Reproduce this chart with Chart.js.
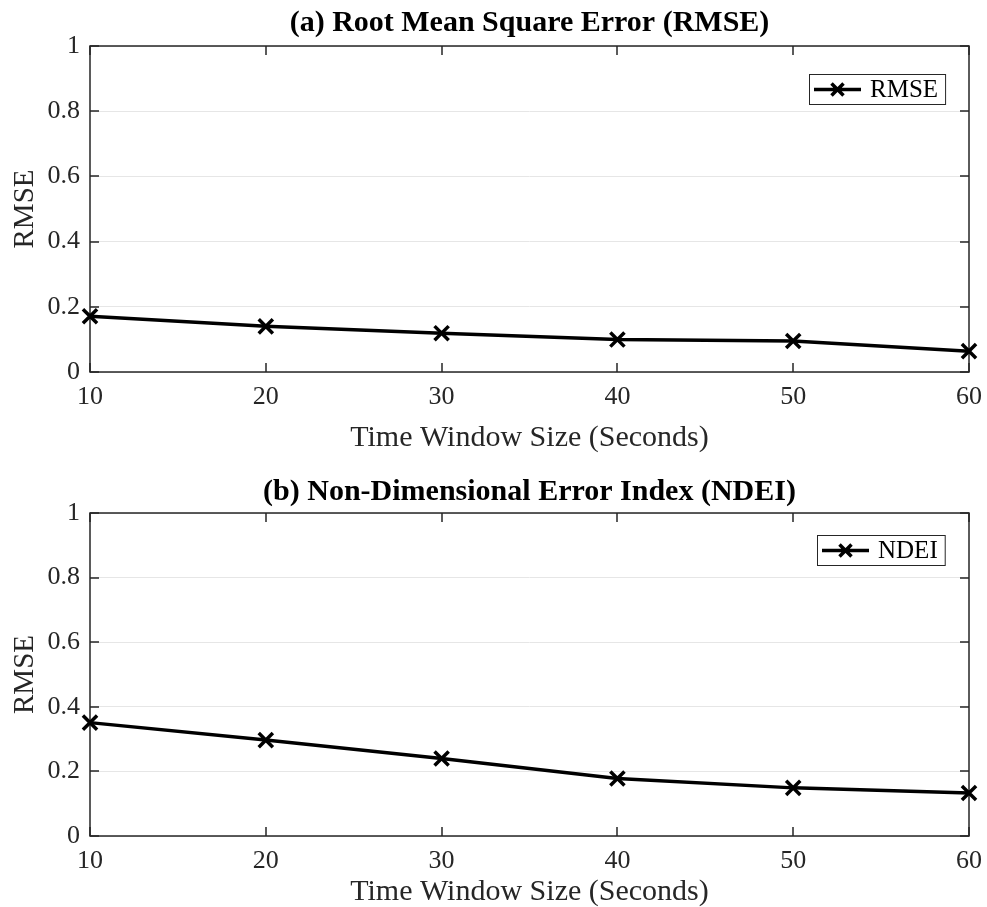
<!DOCTYPE html>
<html>
<head>
<meta charset="utf-8">
<script src="https://cdn.jsdelivr.net/npm/chart.js@4"></script>
<style>
html,body{margin:0;padding:0;background:#fff;}
#wrap{position:relative;width:987px;height:907px;overflow:hidden;}
#c1{position:absolute;left:0;top:0;}
#c2{position:absolute;left:0;top:458px;}
</style>
</head>
<body>
<div id="wrap">
<canvas id="c1" width="987" height="458"></canvas>
<canvas id="c2" width="987" height="449"></canvas>
</div>
<script>
const windowSizes = [10, 20, 30, 40, 50, 60];
const rmseValues = [0.171, 0.140, 0.119, 0.0995, 0.095, 0.064];
const ndeiValues = [0.351, 0.297, 0.240, 0.178, 0.149, 0.133];
const yTickValues = [0, 0.2, 0.4, 0.6, 0.8, 1];
const yTickLabels = ['0', '0.2', '0.4', '0.6', '0.8', '1'];
const xTickLabels = ['10', '20', '30', '40', '50', '60'];
const titles = ['(a) Root Mean Square Error (RMSE)', '(b) Non-Dimensional Error Index (NDEI)'];
const seriesNames = ['RMSE', 'NDEI'];
const xTitle = 'Time Window Size (Seconds)';
const yTitle = 'RMSE';

const FONT = "'Liberation Serif', 'Times New Roman', serif";
const AXIS = '#262626';

const boxTicks = {
  id: 'boxTicks',
  beforeDatasetsDraw(chart) {
    const ctx = chart.ctx, a = chart.chartArea;
    const xs = chart.scales.x, ys = chart.scales.y;
    const L = 9;
    ctx.save();
    ctx.strokeStyle = AXIS;
    ctx.lineWidth = 1.5;
    ctx.beginPath();
    xs.ticks.forEach(t => {
      const px = Math.round(xs.getPixelForValue(t.value));
      ctx.moveTo(px, a.bottom); ctx.lineTo(px, a.bottom - L);
      ctx.moveTo(px, a.top); ctx.lineTo(px, a.top + L);
    });
    ys.ticks.forEach(t => {
      const py = Math.round(ys.getPixelForValue(t.value));
      ctx.moveTo(a.left, py); ctx.lineTo(a.left + L, py);
      ctx.moveTo(a.right, py); ctx.lineTo(a.right - L, py);
    });
    ctx.stroke();
    ctx.lineWidth = 1.5;
    ctx.strokeRect(a.left, a.top, a.right - a.left, a.bottom - a.top);
    ctx.restore();
  }
};

const boxLegend = {
  id: 'boxLegend',
  afterDatasetsDraw(chart, args, opts) {
    const ctx = chart.ctx, a = chart.chartArea;
    const label = chart.data.datasets[0].label;
    ctx.save();
    ctx.font = '25px ' + FONT;
    const tw = ctx.measureText(label).width;
    const lineLen = 47;
    const w = 5 + lineLen + 9 + tw + 7;
    const h = 30;
    const x1 = Math.round(a.right - 24 - w);
    const y1 = Math.round(a.top + opts.offsetY);
    ctx.fillStyle = '#fff';
    ctx.fillRect(x1, y1, w, h);
    ctx.strokeStyle = '#262626';
    ctx.lineWidth = 1;
    ctx.strokeRect(x1 + 0.5, y1 + 0.5, w, h);
    const cy = y1 + h / 2 + 0.5;
    const lx = x1 + 5;
    ctx.strokeStyle = '#000';
    ctx.lineWidth = 3.5;
    ctx.beginPath();
    ctx.moveTo(lx, cy); ctx.lineTo(lx + lineLen, cy);
    const cx = lx + lineLen / 2, r = 6;
    ctx.moveTo(cx - r, cy - r); ctx.lineTo(cx + r, cy + r);
    ctx.moveTo(cx - r, cy + r); ctx.lineTo(cx + r, cy - r);
    ctx.stroke();
    ctx.fillStyle = '#000';
    ctx.textBaseline = 'middle';
    ctx.fillText(label, lx + lineLen + 9, cy + 1);
    ctx.restore();
  }
};

function makeChart(id, idx, values, opt) {
  return new Chart(document.getElementById(id), {
    type: 'line',
    data: {
      datasets: [{
        label: seriesNames[idx],
        data: windowSizes.map((x, i) => ({x: x, y: values[i]})),
        borderColor: '#000',
        backgroundColor: '#000',
        borderWidth: 3.5,
        pointStyle: 'crossRot',
        pointRadius: 10,
        pointBorderWidth: 3.5,
        pointBorderColor: '#000',
        tension: 0,
        clip: false
      }]
    },
    options: {
      responsive: false,
      animation: false,
      events: [],
      layout: {padding: {left: 0, right: 18, top: 0, bottom: 0}},
      plugins: {
        legend: {display: false},
        tooltip: {enabled: false},
        title: {
          display: true,
          fullSize: false,
          text: titles[idx],
          color: '#000',
          font: {family: FONT, size: 30, weight: 'bold'},
          padding: {top: opt.titleTop, bottom: opt.titleBottom}
        },
        boxLegend: {offsetY: opt.legendY}
      },
      scales: {
        x: {
          type: 'linear',
          min: 10, max: 60,
          afterBuildTicks(s) { s.ticks = windowSizes.map(v => ({value: v})); },
          ticks: {
            color: AXIS,
            font: {family: FONT, size: 26},
            padding: opt.xTickPad,
            maxRotation: 0,
            callback: (v) => xTickLabels[windowSizes.indexOf(v)]
          },
          grid: {display: false, drawTicks: false},
          border: {display: false},
          title: {
            display: true, text: xTitle, color: AXIS,
            font: {family: FONT, size: 30},
            padding: {top: 0, bottom: opt.xTitleBottom}
          },
          afterFit(s) { s.height = opt.xHeight; s.paddingLeft = 0; s.paddingRight = 0; }
        },
        y: {
          min: 0, max: 1,
          afterBuildTicks(s) { s.ticks = yTickValues.map(v => ({value: v})); },
          ticks: {
            color: AXIS,
            font: {family: FONT, size: 26},
            padding: 10,
            callback: (v) => yTickLabels[yTickValues.indexOf(v)]
          },
          grid: {color: '#e6e6e6', lineWidth: 1, drawTicks: false},
          border: {display: false},
          title: {
            display: true, text: yTitle, color: AXIS,
            font: {family: FONT, size: 29},
            padding: {top: 8, bottom: 0}
          },
          afterFit(s) { s.width = 90; s.paddingTop = 0; s.paddingBottom = 0; }
        }
      }
    },
    plugins: [boxTicks, boxLegend]
  });
}

makeChart('c1', 0, rmseValues, {titleTop: 5, titleBottom: 5, xTickPad: 10, xTitleBottom: 2, xHeight: 86, legendY: 28});
makeChart('c2', 1, ndeiValues, {titleTop: 16, titleBottom: 3, xTickPad: 10, xTitleBottom: -3, xHeight: 71, legendY: 22});
</script>
</body>
</html>
